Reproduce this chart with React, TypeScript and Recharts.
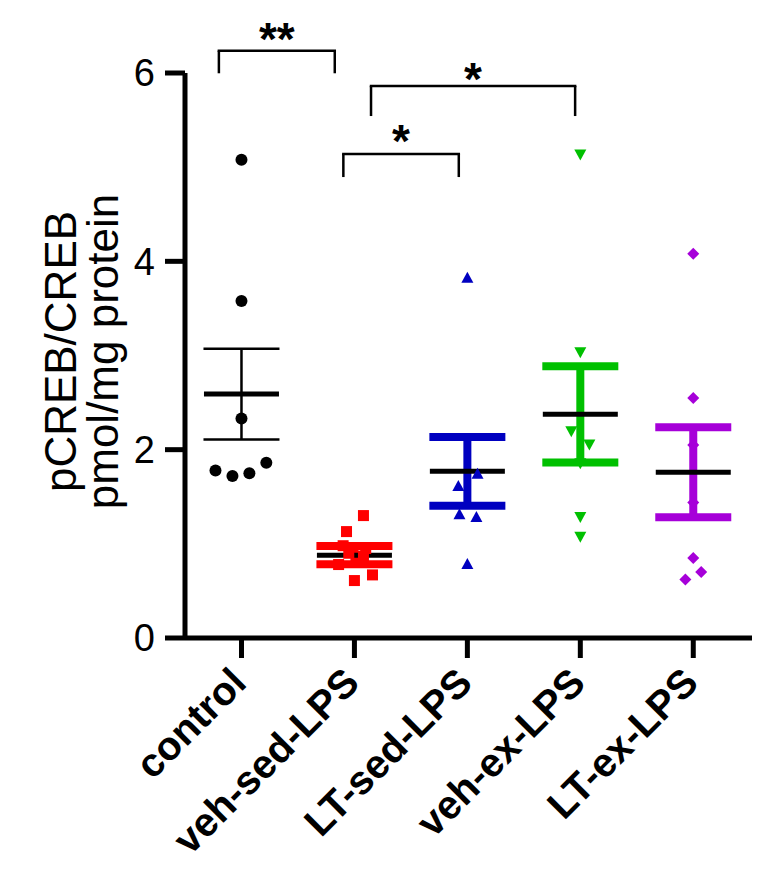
import { ScatterChart, Scatter, XAxis, YAxis, ErrorBar, ReferenceLine, ReferenceDot, Label } from 'recharts';

const groups = ['control', 'veh-sed-LPS', 'LT-sed-LPS', 'veh-ex-LPS', 'LT-ex-LPS'];
const colors = ['#000000', '#ff0000', '#0000c0', '#00c000', '#a600d9'];
const markers = ['circle', 'square', 'triangle', 'triangleDown', 'diamond'];

// individual animals
const controlValues = [5.08, 3.58, 2.33, 1.78, 1.72, 1.75, 1.86];
const controlJitter = [0, 0, 0, -0.23, -0.08, 0.07, 0.22];
const vehSedValues = [1.3, 1.13, 0.98, 0.95, 0.9, 0.87, 0.78, 0.67, 0.61];
const vehSedJitter = [0.08, -0.07, -0.1, 0.1, -0.05, 0.08, -0.14, 0.16, 0];
const ltSedValues = [3.82, 1.74, 1.61, 1.31, 1.28, 0.78];
const ltSedJitter = [0, 0.09, -0.08, -0.07, 0.08, 0];
const vehExValues = [5.14, 3.04, 2.2, 2.06, 1.86, 1.29, 1.08];
const vehExJitter = [0, 0, -0.08, 0.08, 0, 0, 0];
const ltExValues = [4.08, 2.55, 2.05, 1.44, 0.85, 0.7, 0.62];
const ltExJitter = [0, 0, 0, 0, 0, 0.07, -0.07];

const means = [2.59, 0.88, 1.77, 2.375, 1.76];
const sems = [0.483, 0.097, 0.365, 0.51, 0.477];

const yTicks = [0, 2, 4, 6];
const yLabelLines = ['pCREB/CREB', 'pmol/mg protein'];

// significance brackets (category / value units)
const brackets = [
  { x1: -0.2, x2: 0.826, top: 6.237, bottom: 5.997, text: '**', textY: 6.47 },
  { x1: 1.147, x2: 2.954, top: 5.862, bottom: 5.543, text: '*', textY: 6.04 },
  { x1: 0.902, x2: 1.924, top: 5.14, bottom: 4.895, text: '*', textY: 5.38 },
];

const allValues = [controlValues, vehSedValues, ltSedValues, vehExValues, ltExValues];
const allJitter = [controlJitter, vehSedJitter, ltSedJitter, vehExJitter, ltExJitter];

const font = '"Liberation Sans", Arial, sans-serif';

function Marker({ cx, cy, kind, color }: any) {
  if (cx == null || cy == null) return null;
  if (kind === 'circle') return <circle cx={cx} cy={cy} r={6} fill={color} />;
  if (kind === 'square') return <rect x={cx - 5.5} y={cy - 5.5} width={11} height={11} fill={color} />;
  if (kind === 'triangle')
    return <polygon points={`${cx},${cy - 6.5} ${cx - 6},${cy + 4.5} ${cx + 6},${cy + 4.5}`} fill={color} />;
  if (kind === 'triangleDown')
    return <polygon points={`${cx - 6},${cy - 4.5} ${cx + 6},${cy - 4.5} ${cx},${cy + 6.5}`} fill={color} />;
  return <polygon points={`${cx},${cy - 6} ${cx + 6},${cy} ${cx},${cy + 6} ${cx - 6},${cy}`} fill={color} />;
}

function MeanLine({ cx, cy }: any) {
  if (cx == null || cy == null) return null;
  return <line x1={cx - 37.5} x2={cx + 37.5} y1={cy} y2={cy} stroke="#000" strokeWidth={5} />;
}

function XTick({ x, y, payload }: any) {
  const tx = x + 7;
  const ty = y + 25;
  return (
    <text
      x={tx}
      y={ty}
      transform={`rotate(-45 ${tx} ${ty})`}
      textAnchor="end"
      fontFamily={font}
      fontWeight="bold"
      fontSize={40}
      fill="#000"
    >
      {groups[payload.value]}
    </text>
  );
}

function YTitle(props: any) {
  const vb = props.viewBox || { y: 73, height: 565 };
  const cy = vb.y + vb.height / 2 - 4;
  return (
    <g>
      {yLabelLines.map((line, i) => {
        const x = 76 + i * 42;
        return (
          <text
            key={line}
            x={x}
            y={cy}
            transform={`rotate(-90 ${x} ${cy})`}
            textAnchor="middle"
            fontFamily={font}
            fontSize={44}
            fill="#000"
          >
            {line}
          </text>
        );
      })}
    </g>
  );
}

function Star({ cx, cy, text }: any) {
  if (cx == null || cy == null) return null;
  return (
    <text x={cx} y={cy + 26} textAnchor="middle" fontFamily={font} fontWeight="bold" fontSize={46} fill="#000">
      {text}
    </text>
  );
}

export default function App() {
  return (
    <div style={{ position: 'absolute', left: 0, top: 0, background: '#fff' }}>
      <ScatterChart width={775} height={875} margin={{ top: 73, right: 23, bottom: 0, left: 0 }}>
        <XAxis
          type="number"
          dataKey="x"
          domain={[-0.5, 4.52]}
          ticks={[0, 1, 2, 3, 4]}
          interval={0}
          height={237}
          axisLine={{ stroke: '#000', strokeWidth: 5 }}
          tickLine={{ stroke: '#000', strokeWidth: 5 }}
          tickSize={20}
          tick={<XTick />}
        />
        <YAxis
          type="number"
          dataKey="y"
          domain={[0, 6]}
          ticks={yTicks}
          width={185}
          allowDataOverflow
          axisLine={{ stroke: '#000', strokeWidth: 5 }}
          tickLine={{ stroke: '#000', strokeWidth: 5 }}
          tickSize={20}
          tickMargin={10}
          tick={{ fill: '#000', fontSize: 38, fontFamily: font }}
        >
          <Label content={(p: any) => <YTitle {...p} />} />
        </YAxis>

        {groups.map((g, i) => (
          <Scatter
            key={`mean-${g}`}
            data={[{ x: i, y: means[i], sem: sems[i] }]}
            shape={(p: any) => <MeanLine {...p} />}
            isAnimationActive={false}
          >
            <ErrorBar
              dataKey="sem"
              direction="y"
              width={38}
              stroke={colors[i]}
              strokeWidth={i === 0 ? 2.5 : 8}
              isAnimationActive={false}
            />
          </Scatter>
        ))}

        {groups.map((g, i) => (
          <Scatter
            key={`pts-${g}`}
            data={allValues[i].map((v, j) => ({ x: i + allJitter[i][j], y: v }))}
            shape={(p: any) => <Marker {...p} kind={markers[i]} color={colors[i]} />}
            isAnimationActive={false}
          />
        ))}

        {brackets.map((b, i) => [
          <ReferenceLine
            key={`bl-${i}`}
            segment={[{ x: b.x1, y: b.bottom }, { x: b.x1, y: b.top }]}
            stroke="#000"
            strokeWidth={2.5}
            ifOverflow="visible"
          />,
          <ReferenceLine
            key={`bt-${i}`}
            segment={[{ x: b.x1, y: b.top }, { x: b.x2, y: b.top }]}
            stroke="#000"
            strokeWidth={2.5}
            strokeLinecap="square"
            ifOverflow="visible"
          />,
          <ReferenceLine
            key={`br-${i}`}
            segment={[{ x: b.x2, y: b.top }, { x: b.x2, y: b.bottom }]}
            stroke="#000"
            strokeWidth={2.5}
            ifOverflow="visible"
          />,
          <ReferenceDot
            key={`bs-${i}`}
            x={(b.x1 + b.x2) / 2}
            y={b.textY}
            r={0}
            ifOverflow="visible"
            shape={(p: any) => <Star {...p} text={b.text} />}
          />,
        ])}
      </ScatterChart>
    </div>
  );
}
